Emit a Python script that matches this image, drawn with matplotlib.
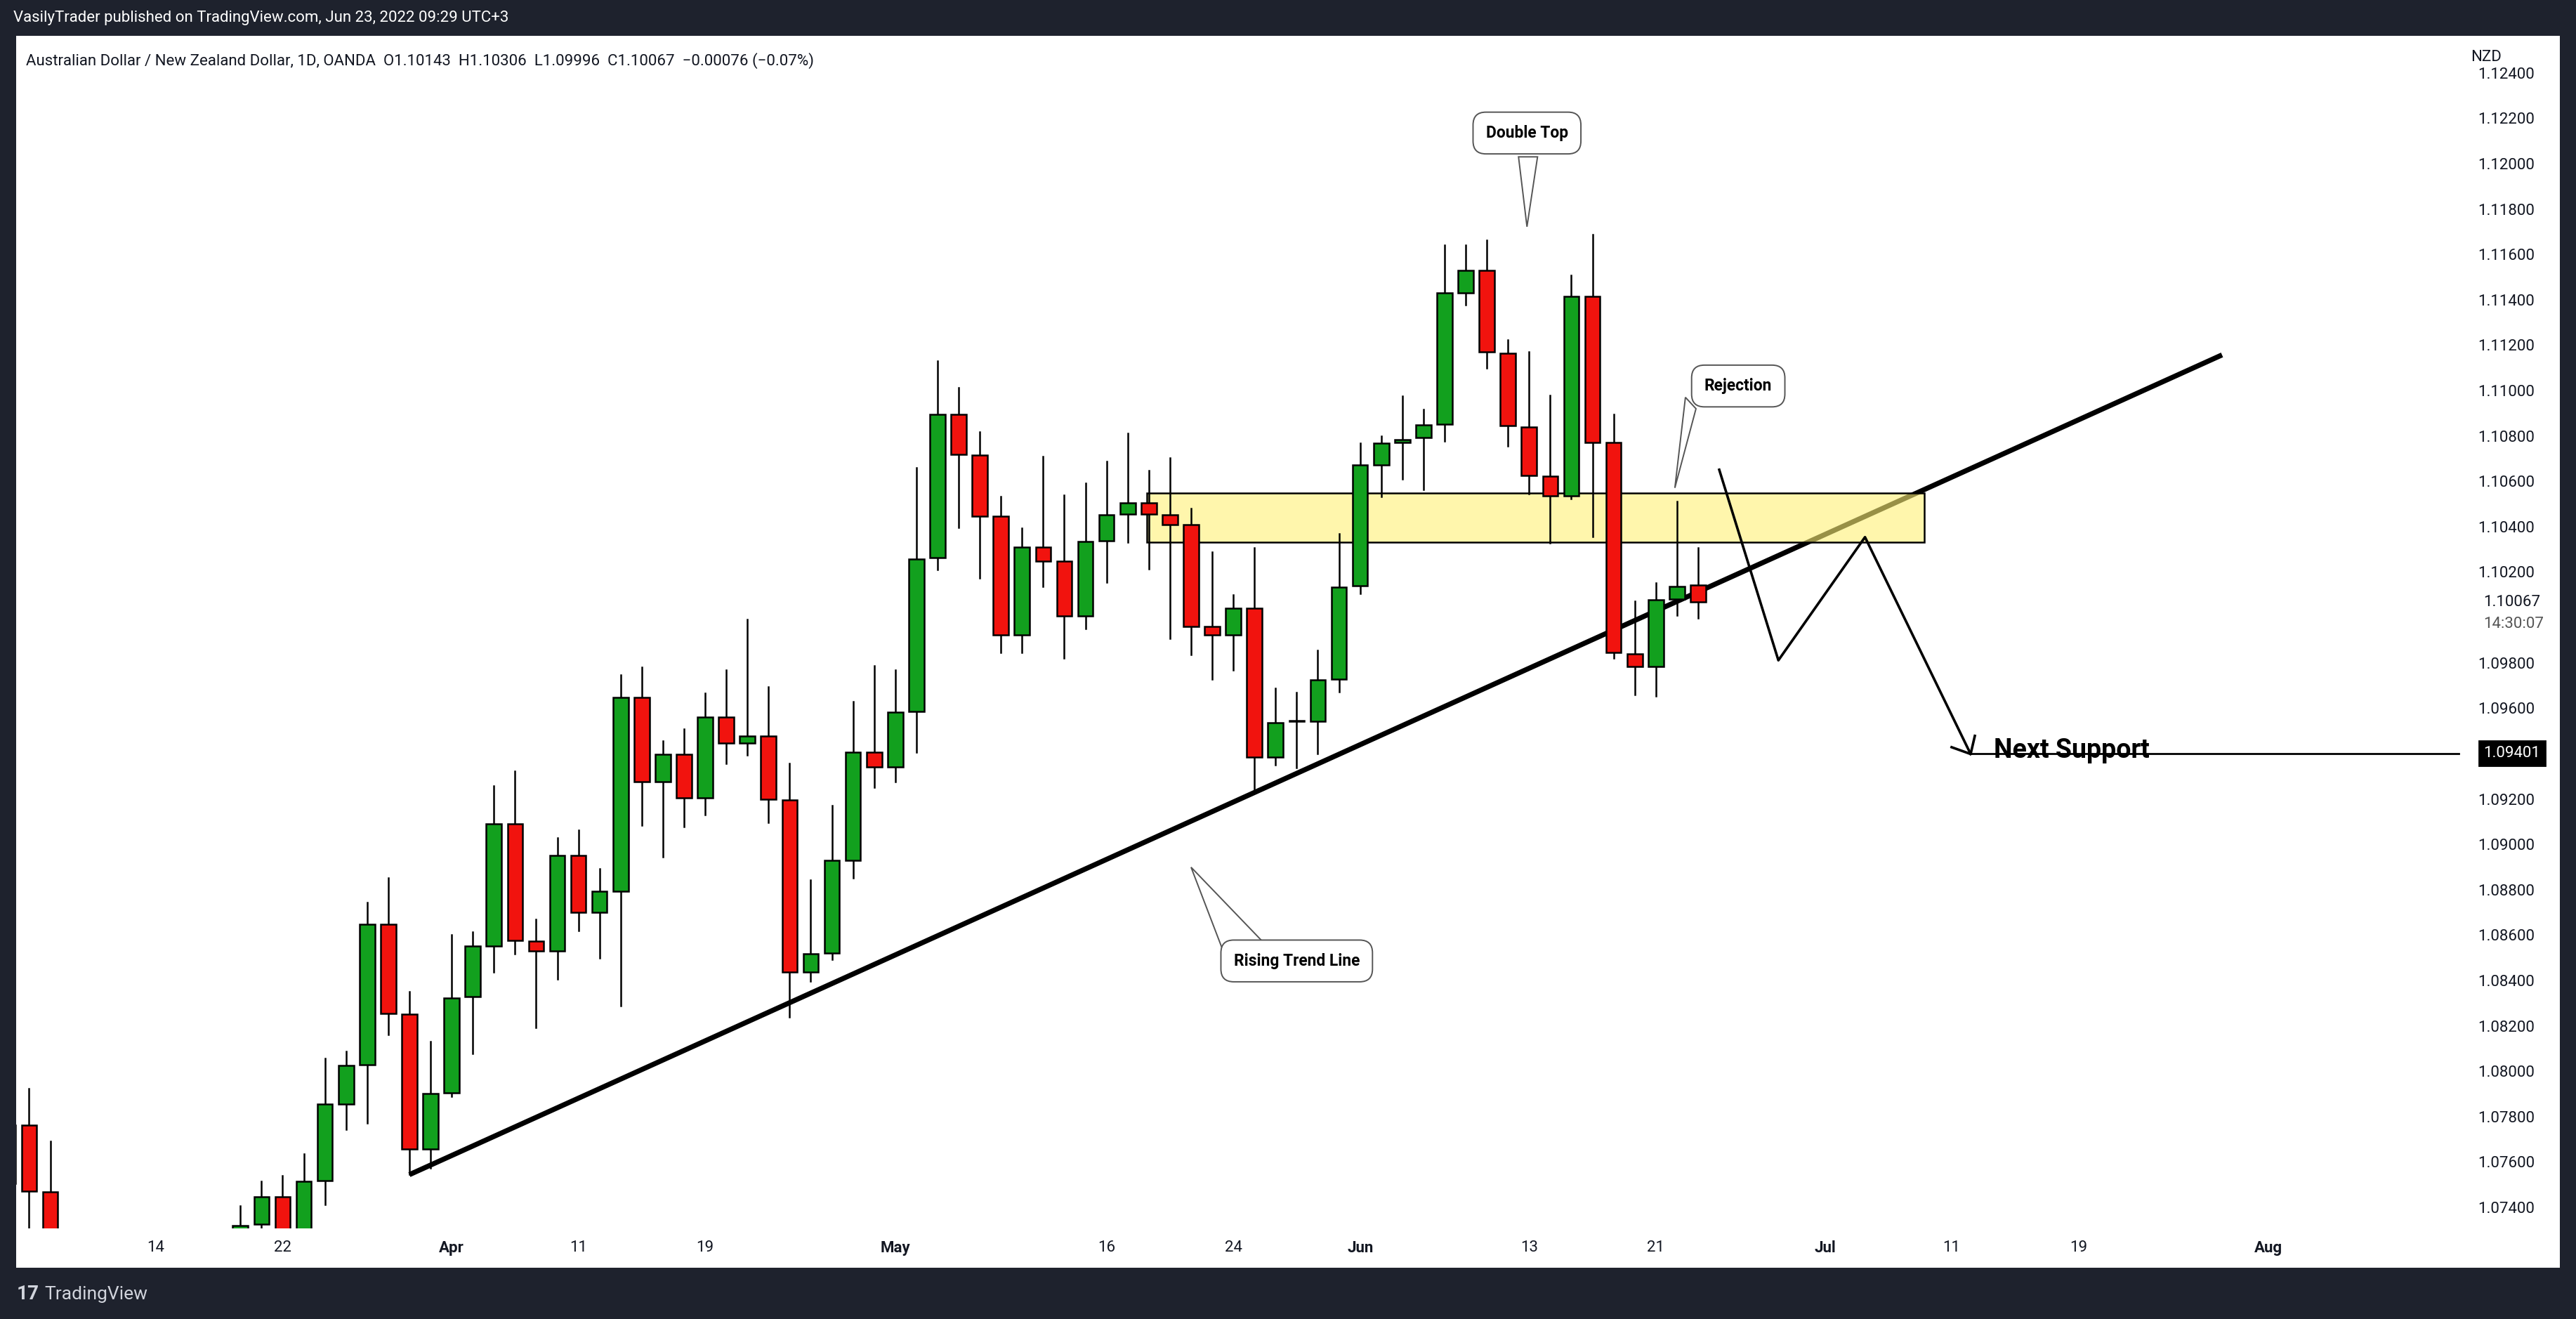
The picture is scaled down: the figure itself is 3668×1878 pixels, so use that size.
import matplotlib
matplotlib.use("Agg")
import matplotlib.pyplot as plt
from matplotlib.patches import Rectangle
import pandas as pd

plt.rcParams["font.family"] = "Roboto"

# daily bars AUDNZD (weekdays)
dates = ["2022-03-03", "2022-03-04", "2022-03-07", "2022-03-18", "2022-03-21", "2022-03-22",
         "2022-03-23", "2022-03-24", "2022-03-25", "2022-03-28", "2022-03-29", "2022-03-30",
         "2022-03-31", "2022-04-01", "2022-04-04", "2022-04-05", "2022-04-06", "2022-04-07",
         "2022-04-08", "2022-04-11", "2022-04-12", "2022-04-13", "2022-04-14", "2022-04-15",
         "2022-04-18", "2022-04-19", "2022-04-20", "2022-04-21", "2022-04-22", "2022-04-25",
         "2022-04-26", "2022-04-27", "2022-04-28", "2022-04-29", "2022-05-02", "2022-05-03",
         "2022-05-04", "2022-05-05", "2022-05-06", "2022-05-09", "2022-05-10", "2022-05-11",
         "2022-05-12", "2022-05-13", "2022-05-16", "2022-05-17", "2022-05-18", "2022-05-19",
         "2022-05-20", "2022-05-23", "2022-05-24", "2022-05-25", "2022-05-26", "2022-05-27",
         "2022-05-30", "2022-05-31", "2022-06-01", "2022-06-02", "2022-06-03", "2022-06-06",
         "2022-06-07", "2022-06-08", "2022-06-09", "2022-06-10", "2022-06-13", "2022-06-14",
         "2022-06-15", "2022-06-16", "2022-06-17", "2022-06-20", "2022-06-21", "2022-06-22",
         "2022-06-23"]
opens = [1.07505, 1.07761, 1.07469, 1.07270, 1.07327, 1.07445, 1.07280, 1.07518, 1.07856, 1.08028,
         1.08646, 1.08251, 1.07658, 1.07905, 1.08328, 1.08551, 1.09090, 1.08574, 1.08531, 1.08950,
         1.08701, 1.08794, 1.09648, 1.09277, 1.09398, 1.09204, 1.09560, 1.09445, 1.09477, 1.09196,
         1.08436, 1.08521, 1.08930, 1.09407, 1.09342, 1.09585, 1.10262, 1.10896, 1.10716, 1.10445,
         1.09924, 1.10310, 1.10247, 1.10008, 1.10338, 1.10455, 1.10505, 1.10453, 1.10408, 1.09961,
         1.09924, 1.10039, 1.09385, 1.09541, 1.09543, 1.09728, 1.10139, 1.10673, 1.10771, 1.10792,
         1.10853, 1.11430, 1.11530, 1.11165, 1.10840, 1.10623, 1.10537, 1.11416, 1.10771, 1.09840,
         1.09783, 1.10082, 1.10143]
highs = [1.07928, 1.07923, 1.07692, 1.07406, 1.07514, 1.07538, 1.07635, 1.08057, 1.08087, 1.08744,
         1.08853, 1.08349, 1.08132, 1.08600, 1.08614, 1.09256, 1.09321, 1.08669, 1.09029, 1.09062,
         1.08892, 1.09745, 1.09779, 1.09457, 1.09508, 1.09666, 1.09769, 1.09992, 1.09694, 1.09356,
         1.08843, 1.09171, 1.09629, 1.09787, 1.09767, 1.10660, 1.11131, 1.11013, 1.10816, 1.10532,
         1.10393, 1.10710, 1.10540, 1.10590, 1.10686, 1.10812, 1.10647, 1.10703, 1.10480, 1.10288,
         1.10100, 1.10308, 1.09689, 1.09668, 1.09854, 1.10369, 1.10768, 1.10799, 1.10974, 1.10917,
         1.11642, 1.11642, 1.11663, 1.11222, 1.11171, 1.10979, 1.11508, 1.11686, 1.10894, 1.10073,
         1.10153, 1.10512, 1.10306]
lows = [1.07250, 1.07311, 1.07200, 1.07200, 1.07301, 1.07200, 1.07200, 1.07412, 1.07745, 1.07771,
        1.08162, 1.07544, 1.07574, 1.07890, 1.08077, 1.08438, 1.08517, 1.08192, 1.08407, 1.08620,
        1.08498, 1.08288, 1.09084, 1.08946, 1.09078, 1.09131, 1.09356, 1.09394, 1.09096, 1.08239,
        1.08397, 1.08492, 1.08853, 1.09252, 1.09275, 1.09405, 1.10210, 1.10395, 1.10173, 1.09846,
        1.09846, 1.10137, 1.09820, 1.09950, 1.10154, 1.10330, 1.10215, 1.09906, 1.09837, 1.09728,
        1.09767, 1.09233, 1.09351, 1.09338, 1.09400, 1.09672, 1.10106, 1.10532, 1.10611, 1.10565,
        1.10776, 1.11379, 1.11100, 1.10755, 1.10544, 1.10329, 1.10522, 1.10357, 1.09820, 1.09660,
        1.09655, 1.10010, 1.09996]
closes = [1.07761, 1.07471, 1.07250, 1.07321, 1.07445, 1.07250, 1.07516, 1.07854, 1.08024, 1.08646,
          1.08253, 1.07658, 1.07903, 1.08324, 1.08551, 1.09090, 1.08576, 1.08531, 1.08950, 1.08701,
          1.08792, 1.09648, 1.09277, 1.09398, 1.09204, 1.09560, 1.09445, 1.09477, 1.09198, 1.08436,
          1.08519, 1.08928, 1.09407, 1.09342, 1.09581, 1.10258, 1.10896, 1.10718, 1.10447, 1.09924,
          1.10310, 1.10249, 1.10008, 1.10336, 1.10453, 1.10505, 1.10456, 1.10408, 1.09961, 1.09924,
          1.10039, 1.09385, 1.09537, 1.09541, 1.09726, 1.10134, 1.10671, 1.10768, 1.10783, 1.10849,
          1.11429, 1.11530, 1.11169, 1.10844, 1.10625, 1.10537, 1.11416, 1.10771, 1.09845, 1.09783,
          1.10078, 1.10138, 1.10067]

# drawings (bar index counted from 2022-03-07, price)
trend_x = [17, 102.8]
trend_y = [1.07544, 1.11157]
zone_x = [51.9, 88.7]
zone_y = [1.10332, 1.10549]
path_x = [79.0, 81.8, 85.9, 90.9]
path_y = [1.10651, 1.09811, 1.10354, 1.09398]
head_x = [90.0, 90.9, 91.1]
head_y = [1.09428, 1.09398, 1.09478]
support = 1.09401
price_ticks = [1.074, 1.076, 1.078, 1.080, 1.082, 1.084, 1.086, 1.088, 1.090, 1.092,
               1.096, 1.098, 1.102, 1.104, 1.106, 1.108, 1.110, 1.112, 1.114, 1.116,
               1.118, 1.120, 1.122, 1.124]
date_ticks = [5, 11, 19, 25, 31, 40, 50, 56, 62, 70, 76, 84, 90, 96, 105]
date_labels = ["14", "22", "Apr", "11", "19", "May", "16", "24", "Jun", "13", "21", "Jul", "11", "19", "Aug"]
bold_labels = {"Apr", "May", "Jun", "Jul", "Aug"}

UP, DOWN, BG, TXT = "#12a01e", "#f1130e", "#1e222d", "#131722"

base = pd.Timestamp("2022-03-07")
idx = [len(pd.bdate_range(base, d)) - 1 if pd.Timestamp(d) >= base
       else -len(pd.bdate_range(d, base)) + 1 for d in dates]

fig = plt.figure(figsize=(18.34, 9.39), dpi=200, facecolor=BG)
W, H = 1568, 803
def fr(x0, y0, x1, y1):
    return [x0 / W, 1 - y1 / H, (x1 - x0) / W, (y1 - y0) / H]

panel = fig.add_axes(fr(10, 22, 1558, 772))
panel.set_facecolor("white"); panel.set_xticks([]); panel.set_yticks([])
for s in panel.spines.values():
    s.set_visible(False)

ax = fig.add_axes(fr(10, 22, 1494, 748))
ax.set_facecolor("white")
ax.set_xlim(-1.6, 113.8)
ax.set_ylim(1.07306, 1.12562)
for s in ax.spines.values():
    s.set_visible(False)

for x, o, h, l, c in zip(idx, opens, highs, lows, closes):
    col = UP if c >= o else DOWN
    ax.plot([x, x], [l, h], color="black", lw=0.9, zorder=3)
    b = max(abs(c - o), 0.00003)
    ax.add_patch(Rectangle((x - 0.36, min(o, c)), 0.72, b, facecolor=col,
                           edgecolor="black", lw=0.9, zorder=4))

ax.plot(trend_x, trend_y, color="black", lw=2.6, zorder=1, solid_capstyle="butt")
ax.add_patch(Rectangle((zone_x[0], zone_y[0]), zone_x[1] - zone_x[0], zone_y[1] - zone_y[0],
                       facecolor="#fff176", alpha=0.6, edgecolor="none", zorder=2))
ax.add_patch(Rectangle((zone_x[0], zone_y[0]), zone_x[1] - zone_x[0], zone_y[1] - zone_y[0],
                       facecolor="none", edgecolor="black", lw=0.9, zorder=2))
ax.plot(path_x, path_y, color="black", lw=1.3, zorder=5)
ax.plot(head_x, head_y, color="black", lw=1.3, zorder=5)
ax.plot([path_x[-1], 114], [support, support], color="black", lw=1.0, zorder=5, clip_on=False)
ax.text(92.0, support + 0.00012, "Next Support", fontsize=13.5, fontweight="bold",
        va="center", ha="left", zorder=6)

def callout(cx, cy, label, tip, base_pts):
    ax.fill([base_pts[0][0], tip[0], base_pts[1][0]], [base_pts[0][1], tip[1], base_pts[1][1]],
            facecolor="white", edgecolor="#555555", lw=0.7, zorder=6)
    ax.text(cx, cy, label, ha="center", va="center", fontsize=8.2, fontweight="bold", zorder=7,
            bbox=dict(boxstyle="round,pad=0.8,rounding_size=0.8", fc="white", ec="#555555", lw=0.7))

callout(69.9, 1.12135, "Double Top", (69.9, 1.11722), [(69.5, 1.1203), (70.4, 1.1203)])
callout(79.9, 1.11020, "Rejection", (76.9, 1.10571), [(77.4, 1.1097), (77.9, 1.1092)])
callout(59.0, 1.08486, "Rising Trend Line", (54.0, 1.08899), [(55.6, 1.0851), (57.4, 1.0857)])

ax.yaxis.tick_right()
ax.set_yticks(price_ticks)
ax.set_yticklabels([f"{v:.5f}" for v in price_ticks])
ax.tick_params(axis="y", length=0, pad=12, labelsize=8, labelcolor=TXT)
ax.set_xticks(date_ticks)
ax.set_xticklabels(date_labels)
ax.tick_params(axis="x", length=0, pad=6, labelsize=8, labelcolor=TXT)
for t in ax.get_xticklabels():
    if t.get_text() in bold_labels:
        t.set_fontweight("bold")

ax.text(1.012, support, "1.09401", transform=ax.get_yaxis_transform(), fontsize=8,
        color="white", va="center", ha="left", zorder=8,
        bbox=dict(boxstyle="square,pad=0.3", fc="black", ec="black"))
ax.text(1.012, closes[-1], "1.10067", transform=ax.get_yaxis_transform(), fontsize=8,
        color=TXT, va="center", ha="left", zorder=8)
ax.text(1.012, closes[-1] - 0.00095, "14:30:07", transform=ax.get_yaxis_transform(), fontsize=8,
        color="#555555", va="center", ha="left", zorder=8)
fig.text(1504 / W, 1 - 35 / H, "NZD", fontsize=8, color=TXT, va="center")

fig.text(16 / W, 1 - 37 / H,
         "Australian Dollar / New Zealand Dollar, 1D, OANDA  O1.10143  H1.10306  L1.09996  C1.10067  \u22120.00076 (\u22120.07%)",
         fontsize=8, color=TXT, va="center")
fig.text(8 / W, 1 - 11 / H, "VasilyTrader published on TradingView.com, Jun 23, 2022 09:29 UTC+3",
         fontsize=8, color="white", va="center")
fig.text(10 / W, 1 - 788 / H, "17", fontsize=10, fontweight="bold", color="#d1d4dc", va="center")
fig.text(27 / W, 1 - 788 / H, "TradingView", fontsize=9.5, color="#d1d4dc", va="center")

fig.savefig("out.png", dpi=200, facecolor=BG)
